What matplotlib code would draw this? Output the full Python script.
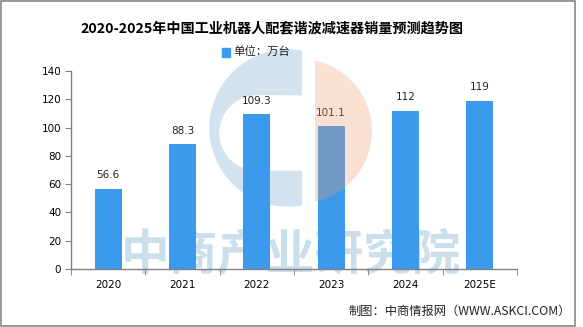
import numpy as np
import matplotlib.pyplot as plt
from matplotlib.patches import Rectangle, Circle, Polygon

plt.rcParams['font.family'] = ['Noto Sans CJK SC', 'DejaVu Sans']

# 销量数据（万台）
years = ['2020', '2021', '2022', '2023', '2024', '2025E']
sales = [56.6, 88.3, 109.3, 101.1, 112, 119]
yticks = [0, 20, 40, 60, 80, 100, 120, 140]

bar_color = '#3C9AEE'
axis_color = '#808080'

fig = plt.figure(figsize=(5.83, 3.27), dpi=100)

# 背景层（像素坐标）：水印 logo 蓝色部分和文字
bg = fig.add_axes([0, 0, 1, 1], zorder=0)
bg.set_xlim(0, 583)
bg.set_ylim(327, 0)
bg.axis('off')
blue = Circle((288, 128), 78, color='#D2E3EF')
bg.add_patch(blue)
blue.set_clip_path(Rectangle((150, 30), 152, 200, transform=bg.transData))
ang = np.linspace(np.pi / 2, 3 * np.pi / 2, 60)
hollow = np.column_stack([257 + 37 * np.cos(ang), 133 - 37 * np.sin(ang)])
hollow = np.vstack([hollow, [[310, 170], [310, 96]]])
bg.add_patch(Polygon(hollow, closed=True, color='white'))
bg.text(291, 256, '中商产业研究院', ha='center', va='center', fontsize=35,
        color='#CADEEC', fontweight='bold')

ax = fig.add_axes([0.1218, 0.1774, 0.765, 0.6055], zorder=1)
ax.set_facecolor('none')

x = np.arange(len(years))
ax.bar(x, sales, width=0.363, color=bar_color, zorder=2, label='单位：万台')
for xi, v in zip(x, sales):
    ax.text(xi, v + 6, f'{v:g}', ha='center', va='bottom', fontsize=7.5,
            family='DejaVu Sans', color='#222222', zorder=5)

ax.set_xlim(-0.5, len(years) - 0.5)
ax.set_ylim(0, 140)
ax.set_yticks(yticks)
ax.set_xticks(x)
ax.set_xticklabels(years)
ax.set_xticks(np.arange(-0.5, len(years)), minor=True)
ax.tick_params(axis='x', which='major', length=0, pad=8, labelsize=7.5)
ax.tick_params(axis='x', which='minor', length=4, color=axis_color)
ax.tick_params(axis='y', length=4, color=axis_color, labelsize=7.5, pad=3)
for lab in ax.get_xticklabels() + ax.get_yticklabels():
    lab.set_family('DejaVu Sans')

for s in ['top', 'right']:
    ax.spines[s].set_visible(False)
for s in ['left', 'bottom']:
    ax.spines[s].set_color(axis_color)
    ax.spines[s].set_linewidth(1.0)

# 前景层：logo 橙色半圆，半透明压在柱子上
fg = fig.add_axes([0, 0, 1, 1], zorder=2, facecolor='none')
fg.set_xlim(0, 583)
fg.set_ylim(327, 0)
fg.axis('off')
orange = Circle((300, 131), 72, facecolor='#F09A70', edgecolor='none', alpha=0.3)
fg.add_patch(orange)
orange.set_clip_path(Rectangle((315, 40), 100, 200, transform=fg.transData))

fig.text(272 / 583, 0.914, '2020-2025年中国工业机器人配套谐波减速器销量预测趋势图',
         ha='center', va='center', fontsize=10.2, fontweight='bold', color='black')
fig.patches.append(Rectangle((222 / 583, (327 - 57) / 327), 8 / 583, 9 / 327,
                             transform=fig.transFigure, color=bar_color))
fig.text(233 / 583, (327 - 52) / 327, '单位：万台', ha='left', va='center',
         fontsize=8.2, color='#222222')
fig.text(571 / 583, 0.049, '制图：中商情报网（WWW.ASKCI.COM）', ha='right', va='center',
         fontsize=8.8, color='#222222')

# 外边框
fig.patches.append(Rectangle((0.002, 0.003), 0.984, 0.994, transform=fig.transFigure,
                             fill=False, edgecolor='#888888', linewidth=1.2, zorder=10))

fig.savefig('out.png', dpi=100)
